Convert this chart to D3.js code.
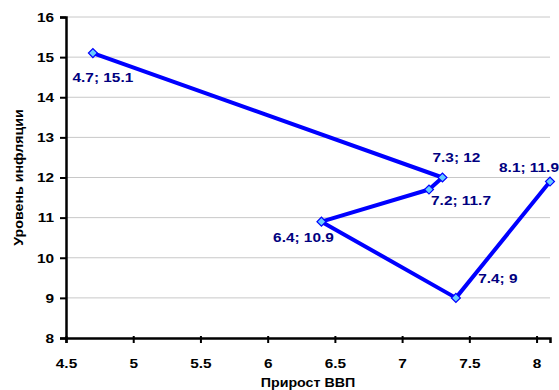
<!DOCTYPE html>
<html>
<head>
<meta charset="utf-8">
<script src="https://cdn.jsdelivr.net/npm/d3@7"></script>
<style>
  body { margin: 0; background: #fff; }
  text { font-family: Arial, "Liberation Sans", sans-serif; }
</style>
</head>
<body>
<div id="chart"></div>
<script>
const gdp = [4.7, 7.3, 7.2, 6.4, 7.4, 8.1];
const inflation = [15.1, 12, 11.7, 10.9, 9, 11.9];
const xTicks = [4.5, 5, 5.5, 6, 6.5, 7, 7.5, 8];
const yTicks = [8, 9, 10, 11, 12, 13, 14, 15, 16];

const width = 559;
const height = 390;
const margin = { top: 17, right: 9, bottom: 52, left: 66 };
const stretch = 1.14; // text in the original is a bit wide

const svg = d3.select("#chart").append("svg")
  .attr("width", width)
  .attr("height", height);

const x = d3.scaleLinear().domain([4.5, 8.1]).range([margin.left, width - margin.right]);
const y = d3.scaleLinear().domain([8, 16]).range([height - margin.bottom, margin.top]);

// grid
svg.append("g")
  .selectAll("line")
  .data(yTicks.slice(1))
  .join("line")
  .attr("x1", margin.left)
  .attr("x2", width - margin.right)
  .attr("y1", d => y(d))
  .attr("y2", d => y(d))
  .attr("stroke", "#c8c8c8")
  .attr("stroke-width", 1);

// axes
const xAxis = svg.append("g")
  .attr("transform", `translate(0 ${y(8)})`)
  .call(d3.axisBottom(x).tickValues(xTicks).tickFormat(d3.format("")).tickSize(5).tickPadding(15));
const yAxis = svg.append("g")
  .attr("transform", `translate(${x(4.5)} 0)`)
  .call(d3.axisLeft(y).tickValues(yTicks).tickSize(6).tickPadding(6));

[xAxis, yAxis].forEach(a => {
  a.select(".domain").attr("stroke", "#000").attr("stroke-width", 2.5);
  a.selectAll(".tick line").attr("stroke", "#000").attr("stroke-width", 2);
  a.selectAll(".tick text")
    .attr("font-size", 13.5)
    .attr("font-weight", "bold")
    .attr("fill", "#000")
    .style("font-family", "Arial, 'Liberation Sans', sans-serif")
    .attr("transform", function () {
      const tx = +this.getAttribute("x") || 0;
      return `translate(${tx} 0) scale(${stretch} 1)`;
    })
    .attr("x", 0);
});
xAxis.selectAll(".tick line").attr("y1", -2);

// line
const pts = gdp.map((g, i) => ({ g, v: inflation[i] }));
svg.append("path")
  .datum(pts)
  .attr("fill", "none")
  .attr("stroke", "#0000ff")
  .attr("stroke-width", 4)
  .attr("stroke-linejoin", "round")
  .attr("d", d3.line().x(d => x(d.g)).y(d => y(d.v)));

// markers
svg.append("g")
  .selectAll("path")
  .data(pts)
  .join("path")
  .attr("d", d3.symbol(d3.symbolSquare, 40)())
  .attr("transform", d => `translate(${x(d.g)} ${y(d.v)}) rotate(45)`)
  .attr("fill", "#66ccff")
  .attr("stroke", "#0000ff")
  .attr("stroke-width", 1.2);

// data labels: offsets relative to point
const offs = [[10, 29], [14, -16], [32, 15], [-18, 20], [42, -15], [-21, -10]];
svg.append("g")
  .selectAll("text")
  .data(pts)
  .join("text")
  .attr("transform", (d, i) => `translate(${x(d.g) + offs[i][0]} ${y(d.v) + offs[i][1]}) scale(${stretch} 1)`)
  .attr("text-anchor", "middle")
  .attr("font-size", 13.5)
  .attr("font-weight", "bold")
  .attr("fill", "#000080")
  .text(d => `${d.g}; ${d.v}`);

// axis titles
svg.append("text")
  .attr("transform", `translate(308 387) scale(${stretch} 1)`)
  .attr("text-anchor", "middle")
  .attr("font-size", 12.5)
  .attr("font-weight", "bold")
  .text("Прирост ВВП");

svg.append("text")
  .attr("transform", `translate(23 ${(y(8) + y(16)) / 2}) rotate(-90) scale(${stretch} 1)`)
  .attr("text-anchor", "middle")
  .attr("font-size", 12.5)
  .attr("font-weight", "bold")
  .text("Уровень инфляции");
</script>
</body>
</html>
